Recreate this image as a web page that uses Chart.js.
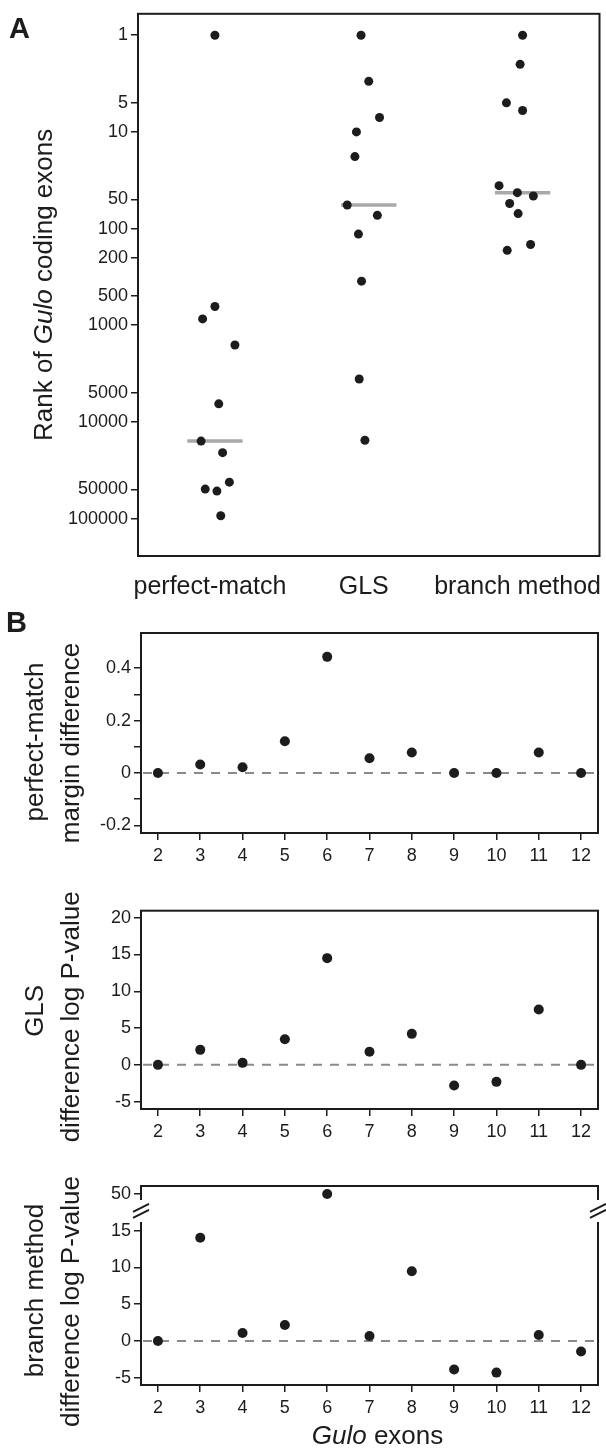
<!DOCTYPE html>
<html>
<head>
<meta charset="utf-8">
<script src="https://cdn.jsdelivr.net/npm/chart.js@4.4.0/dist/chart.umd.min.js"></script>
<style>
  body { margin: 0; background: #fff; }
  #page { position: relative; width: 606px; height: 1451px; overflow: hidden; }
  .panel { position: absolute; left: 0; width: 606px; }
  .tag { position: absolute; font: bold 29px "Liberation Sans", Arial, sans-serif; line-height: 1; color: #1c1c1c; }
</style>
</head>
<body>
<div id="page">
  <div class="panel" style="top:0;height:600px"><canvas id="rank"></canvas></div>
  <div class="panel" style="top:600px;height:280px"><canvas id="margin"></canvas></div>
  <div class="panel" style="top:880px;height:272px"><canvas id="gls"></canvas></div>
  <div class="panel" style="top:1152px;height:299px"><canvas id="branch"></canvas></div>
  <div class="tag" style="left:9px;top:14px">A</div>
  <div class="tag" style="left:6px;top:608px">B</div>
</div>
<script>
// panel A: rank of each Gulo coding exon under the three methods
const methods = ['perfect-match', 'GLS', 'branch method'];
const rankTicks = [1, 5, 10, 50, 100, 200, 500, 1000, 5000, 10000, 50000, 100000];
const perfectRanks = [1, 640, 860, 1600, 6500, 15800, 20800, 42000, 49600, 52000, 93500];
const perfectJitter = [0, 0, -0.08, 0.13, 0.025, -0.09, 0.05, 0.094, -0.063, 0.013, 0.038];
const glsRanks = [1, 3, 7.1, 10, 18, 57, 73, 114, 350, 3600, 15500];
const glsJitter = [-0.05, 0, 0.07, -0.08, -0.09, -0.14, 0.056, -0.067, -0.047, -0.062, -0.025];
const branchRanks = [1, 2, 5, 6, 36, 42.5, 46, 55, 70, 146, 168];
const branchJitter = [0, -0.016, -0.105, 0, -0.153, -0.034, 0.07, -0.084, -0.029, 0.052, -0.1];

// panel B: per-exon differences
const exons = [2, 3, 4, 5, 6, 7, 8, 9, 10, 11, 12];
const marginDiff = [0, 0.032, 0.022, 0.121, 0.443, 0.056, 0.078, 0, 0, 0.078, 0];
const glsLogP = [0, 2.04, 0.27, 3.49, 14.5, 1.77, 4.21, -2.81, -2.31, 7.52, 0];
const branchLogP = [0, 14.06, 1.09, 2.18, 50, 0.68, 9.48, -3.9, -4.31, 0.82, -1.45];
const marginTicks = [-0.2, -0.1, 0, 0.1, 0.2, 0.3, 0.4];
const marginLabels = ['-0.2', '', '0', '', '0.2', '', '0.4'];
const logPTicks = [-5, 0, 5, 10, 15, 20];
const branchTicks = [-5, 0, 5, 10, 15, 50];

const FONT = '"Liberation Sans", Arial, sans-serif';
const INK = '#1c1c1c';

function median(arr) {
  const s = [...arr].sort((a, b) => a - b);
  return s[(s.length - 1) / 2];
}

// broken axis on the branch-method plot: 50 is drawn where 20 would be
function squeeze(v) {
  return v > 17 ? v - 30 : v;
}

function drawText(ctx, segs, size, cx, cy) {
  const font = (it) => (it ? 'italic ' : '') + size + 'px ' + FONT;
  let w = 0;
  segs.forEach((s) => { ctx.font = font(s.it); w += ctx.measureText(s.t).width; });
  let x = cx - w / 2;
  ctx.fillStyle = INK;
  ctx.textAlign = 'left';
  ctx.textBaseline = 'middle';
  segs.forEach((s) => {
    ctx.font = font(s.it);
    ctx.fillText(s.t, x, cy);
    x += ctx.measureText(s.t).width;
  });
}

const framePlugin = {
  id: 'frame',
  afterDraw(chart, args, opts) {
    const { ctx, chartArea: a } = chart;
    ctx.save();
    ctx.strokeStyle = INK;
    ctx.lineWidth = 2;
    if (!opts.gap) {
      ctx.strokeRect(a.left, a.top, a.width, a.height);
    } else {
      const y = chart.scales.y;
      const lo = y.getPixelForValue(opts.gap[0]);
      const hi = y.getPixelForValue(opts.gap[1]);
      ctx.beginPath();
      ctx.moveTo(a.left, hi); ctx.lineTo(a.left, a.top);
      ctx.lineTo(a.right, a.top); ctx.lineTo(a.right, hi);
      ctx.moveTo(a.left, lo); ctx.lineTo(a.left, a.bottom);
      ctx.lineTo(a.right, a.bottom); ctx.lineTo(a.right, lo);
      ctx.stroke();
      const yc = (lo + hi) / 2;
      ctx.beginPath();
      [a.left, a.right].forEach((x) => {
        [-3, 3].forEach((d) => {
          ctx.moveTo(x - 8, yc + d + 4);
          ctx.lineTo(x + 8, yc + d - 4);
        });
      });
      ctx.stroke();
    }
    ctx.restore();
  }
};

const zeroPlugin = {
  id: 'zero',
  beforeDatasetsDraw(chart, args, opts) {
    if (!opts.show) return;
    const { ctx, chartArea: a } = chart;
    const y = chart.scales.y.getPixelForValue(0);
    ctx.save();
    ctx.strokeStyle = '#8a8a8a';
    ctx.lineWidth = 2;
    ctx.setLineDash([9, 8]);
    ctx.beginPath();
    ctx.moveTo(a.left + 2, y);
    ctx.lineTo(a.right - 4, y);
    ctx.stroke();
    ctx.restore();
  }
};

const titlePlugin = {
  id: 'titles',
  afterDraw(chart, args, opts) {
    const { ctx, chartArea: a } = chart;
    const mid = (a.top + a.bottom) / 2;
    opts.lines.forEach((segs, i) => {
      ctx.save();
      ctx.translate(opts.x[i], mid + (opts.dy ? opts.dy[i] : 0));
      ctx.rotate(-Math.PI / 2);
      drawText(ctx, segs, opts.size, 0, 0);
      ctx.restore();
    });
    if (opts.xTitle) {
      ctx.save();
      drawText(ctx, opts.xTitle, opts.size, (a.left + a.right) / 2 + 8, opts.xTitleY);
      ctx.restore();
    }
  }
};

Chart.register(framePlugin, zeroPlugin, titlePlugin);

const tickFont = { family: FONT, size: 18 };

// ---- panel A ----
const rankSeries = [perfectRanks, glsRanks, branchRanks];
const jitters = [perfectJitter, glsJitter, branchJitter];

new Chart(document.getElementById('rank'), {
  type: 'scatter',
  data: {
    datasets: [
      ...rankSeries.map((r, i) => ({
        type: 'line',
        data: [{ x: i - 0.18, y: median(r) }, { x: i + 0.18, y: median(r) }],
        borderColor: '#a9a9a9',
        borderWidth: 3.5,
        pointRadius: 0,
        order: 2,
      })),
      ...rankSeries.map((r, i) => ({
        label: methods[i],
        data: r.map((v, k) => ({ x: i + jitters[i][k], y: v })),
        backgroundColor: INK,
        borderWidth: 0,
        pointRadius: 4.5,
        order: 1,
      })),
    ],
  },
  options: {
    responsive: true,
    maintainAspectRatio: false,
    animation: false,
    layout: { padding: { top: 7.5, right: 6.5, left: 0, bottom: 0 } },
    plugins: {
      legend: { display: false },
      tooltip: { enabled: false },
      titles: {
        size: 26,
        x: [45],
        lines: [[{ t: 'Rank of ' }, { t: 'Gulo', it: true }, { t: ' coding exons' }]],
      },
    },
    scales: {
      x: {
        type: 'linear',
        min: -0.5,
        max: 2.5,
        afterBuildTicks: (s) => { s.ticks = methods.map((m, i) => ({ value: i })); },
        afterFit: (s) => {
          s.height = 44;
          s.paddingLeft = 0;
          s.paddingRight = 0;
        },
        ticks: {
          callback: (v) => methods[v],
          font: { family: FONT, size: 25 },
          color: INK,
          padding: 8,
          labelOffset: -5,
          maxRotation: 0,
          autoSkip: false,
        },
        grid: { display: false },
        border: { display: false },
      },
      y: {
        type: 'logarithmic',
        reverse: true,
        min: 0.6,
        max: 244000,
        afterBuildTicks: (s) => { s.ticks = rankTicks.map((v) => ({ value: v })); },
        afterFit: (s) => { s.width = 138; },
        ticks: {
          callback: (v) => String(v),
          font: tickFont,
          color: INK,
          padding: 3,
          autoSkip: false,
        },
        grid: { drawOnChartArea: false, tickLength: 7, color: INK, lineWidth: 1.5 },
        border: { display: false },
      },
    },
  },
});

// ---- panel B ----
function diffChart(id, values, cfg) {
  const map = cfg.map || ((v) => v);
  return new Chart(document.getElementById(id), {
    type: 'scatter',
    data: {
      datasets: [{
        data: exons.map((e, i) => ({ x: e, y: map(values[i]) })),
        backgroundColor: INK,
        borderWidth: 0,
        pointRadius: 5,
      }],
    },
    options: {
      responsive: true,
      maintainAspectRatio: false,
      animation: false,
      layout: { padding: { top: cfg.top, right: 8, left: 0, bottom: 0 } },
      plugins: {
        legend: { display: false },
        tooltip: { enabled: false },
        frame: { gap: cfg.gap },
        zero: { show: true },
        titles: {
          size: 26,
          x: [36, 72],
          dy: cfg.titleDy,
          lines: cfg.title,
          xTitle: cfg.xTitle,
          xTitleY: cfg.xTitleY,
        },
      },
      scales: {
        x: {
          type: 'linear',
          min: 1.6,
          max: 12.4,
          afterBuildTicks: (s) => { s.ticks = exons.map((v) => ({ value: v })); },
          afterFit: (s) => { s.height = cfg.bottom; },
          ticks: {
            callback: (v) => String(v),
            font: tickFont,
            color: INK,
            padding: 5,
            maxRotation: 0,
            autoSkip: false,
          },
          grid: { drawOnChartArea: false, tickLength: 7, color: INK, lineWidth: 1.5 },
          border: { display: false },
        },
        y: {
          type: 'linear',
          min: cfg.min,
          max: cfg.max,
          afterBuildTicks: (s) => { s.ticks = cfg.ticks.map((v) => ({ value: map(v) })); },
          afterFit: (s) => { s.width = 141; },
          ticks: {
            callback: (v, i) => cfg.labels[i],
            font: tickFont,
            color: INK,
            padding: 3,
            autoSkip: false,
          },
          grid: { drawOnChartArea: false, tickLength: 7, color: INK, lineWidth: 1.5 },
          border: { display: false },
        },
      },
    },
  });
}

diffChart('margin', marginDiff, {
  top: 33, bottom: 47, min: -0.229, max: 0.534,
  ticks: marginTicks, labels: marginLabels,
  title: [[{ t: 'perfect-match' }], [{ t: 'margin difference' }]],
  titleDy: [9, 10],
});

diffChart('gls', glsLogP, {
  top: 30.7, bottom: 43, min: -6, max: 20.95,
  ticks: logPTicks, labels: logPTicks.map(String),
  title: [[{ t: 'GLS' }], [{ t: 'difference log P-value' }]],
  titleDy: [1, 7],
});

diffChart('branch', branchLogP, {
  top: 34, bottom: 66, min: -6, max: 21.1,
  ticks: branchTicks, labels: branchTicks.map(String),
  map: squeeze, gap: [16.2, 19.2],
  title: [[{ t: 'branch method' }], [{ t: 'difference log P-value' }]],
  titleDy: [5, 16],
  xTitle: [{ t: 'Gulo', it: true }, { t: ' exons' }],
  xTitleY: 285,
});
</script>
</body>
</html>
